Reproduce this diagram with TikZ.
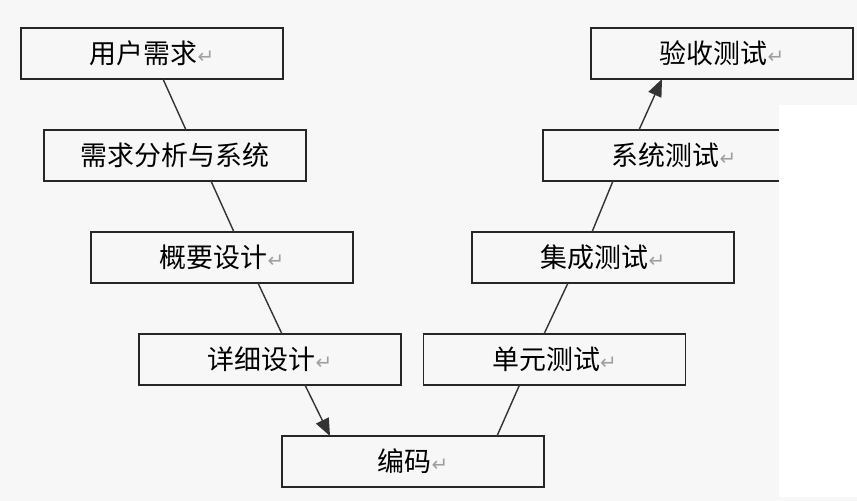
\documentclass[tikz,border=0pt]{standalone}
\usepackage{fontspec}
\setmainfont{Noto Sans CJK SC}
\newfontfamily\symfont{DejaVu Sans}
\usepackage{tikz}
\usetikzlibrary{arrows.meta}
\usetikzlibrary{calc}
\newcommand{\pmark}{{\symfont\fontsize{17}{17}\selectfont\color{gray!75}↵}}

\begin{document}
\begin{tikzpicture}[x=0.03cm,y=-0.03cm,
        stage/.style={draw=black!85,line width=1.6pt,minimum width=7.86cm,minimum height=1.53cm,
                inner sep=0pt,outer sep=0pt,font=\fontsize{23}{28}\selectfont,text=black},
        link/.style={line width=1.2pt,draw=black!80},
        tip/.style={-{Triangle[length=0.52cm,width=0.42cm]}}]
        \fill[gray!6] (0,0) rectangle (857,501);
        \useasboundingbox (0,0) rectangle (857,501);

        \node[stage] (req) at (152,53.5) {用户需求\pmark};
        \node[stage] (ana) at (175,155.5) {需求分析与系统};
        \node[stage] (arch) at (222,257.5) {概要设计\pmark};
        \node[stage] (det) at (270,359.5) {详细设计\pmark};
        \node[stage] (code) at (413,461.5) {编码\pmark};
        \node[stage] (unit) at (554.5,359.5) {单元测试\pmark};
        \node[stage] (integ) at (603,257.5) {集成测试\pmark};
        \node[stage] (sys) at (674,155.5) {系统测试\pmark};
        \node[stage] (acc) at (722,53.5) {验收测试\pmark};

        \draw[link] ($(req.south)+(11,0)$) -- ($(ana.north)+(11,0)$);
        \draw[link] ($(ana.south)+(36,0)$) -- ($(arch.north)+(12,0)$);
        \draw[link] ($(arch.south)+(36,0)$) -- ($(det.north)+(12,0)$);
        \draw[link,tip] ($(det.south)+(35,0)$) -- ($(code.north)+(-83,0)$);
        \draw[link] ($(code.north)+(84,0)$) -- ($(unit.south)+(-35,0)$);
        \draw[link] ($(unit.north)+(-10.5,0)$) -- ($(integ.south)+(-35,0)$);
        \draw[link] ($(integ.north)+(-11,0)$) -- ($(sys.south)+(-61,0)$);
        \draw[link,tip] ($(sys.north)+(-35,0)$) -- ($(acc.south)+(-60,0)$);

        % white patch over the right edge
        \fill[white] (779,105) rectangle (857,497);
\end{tikzpicture}
\end{document}
